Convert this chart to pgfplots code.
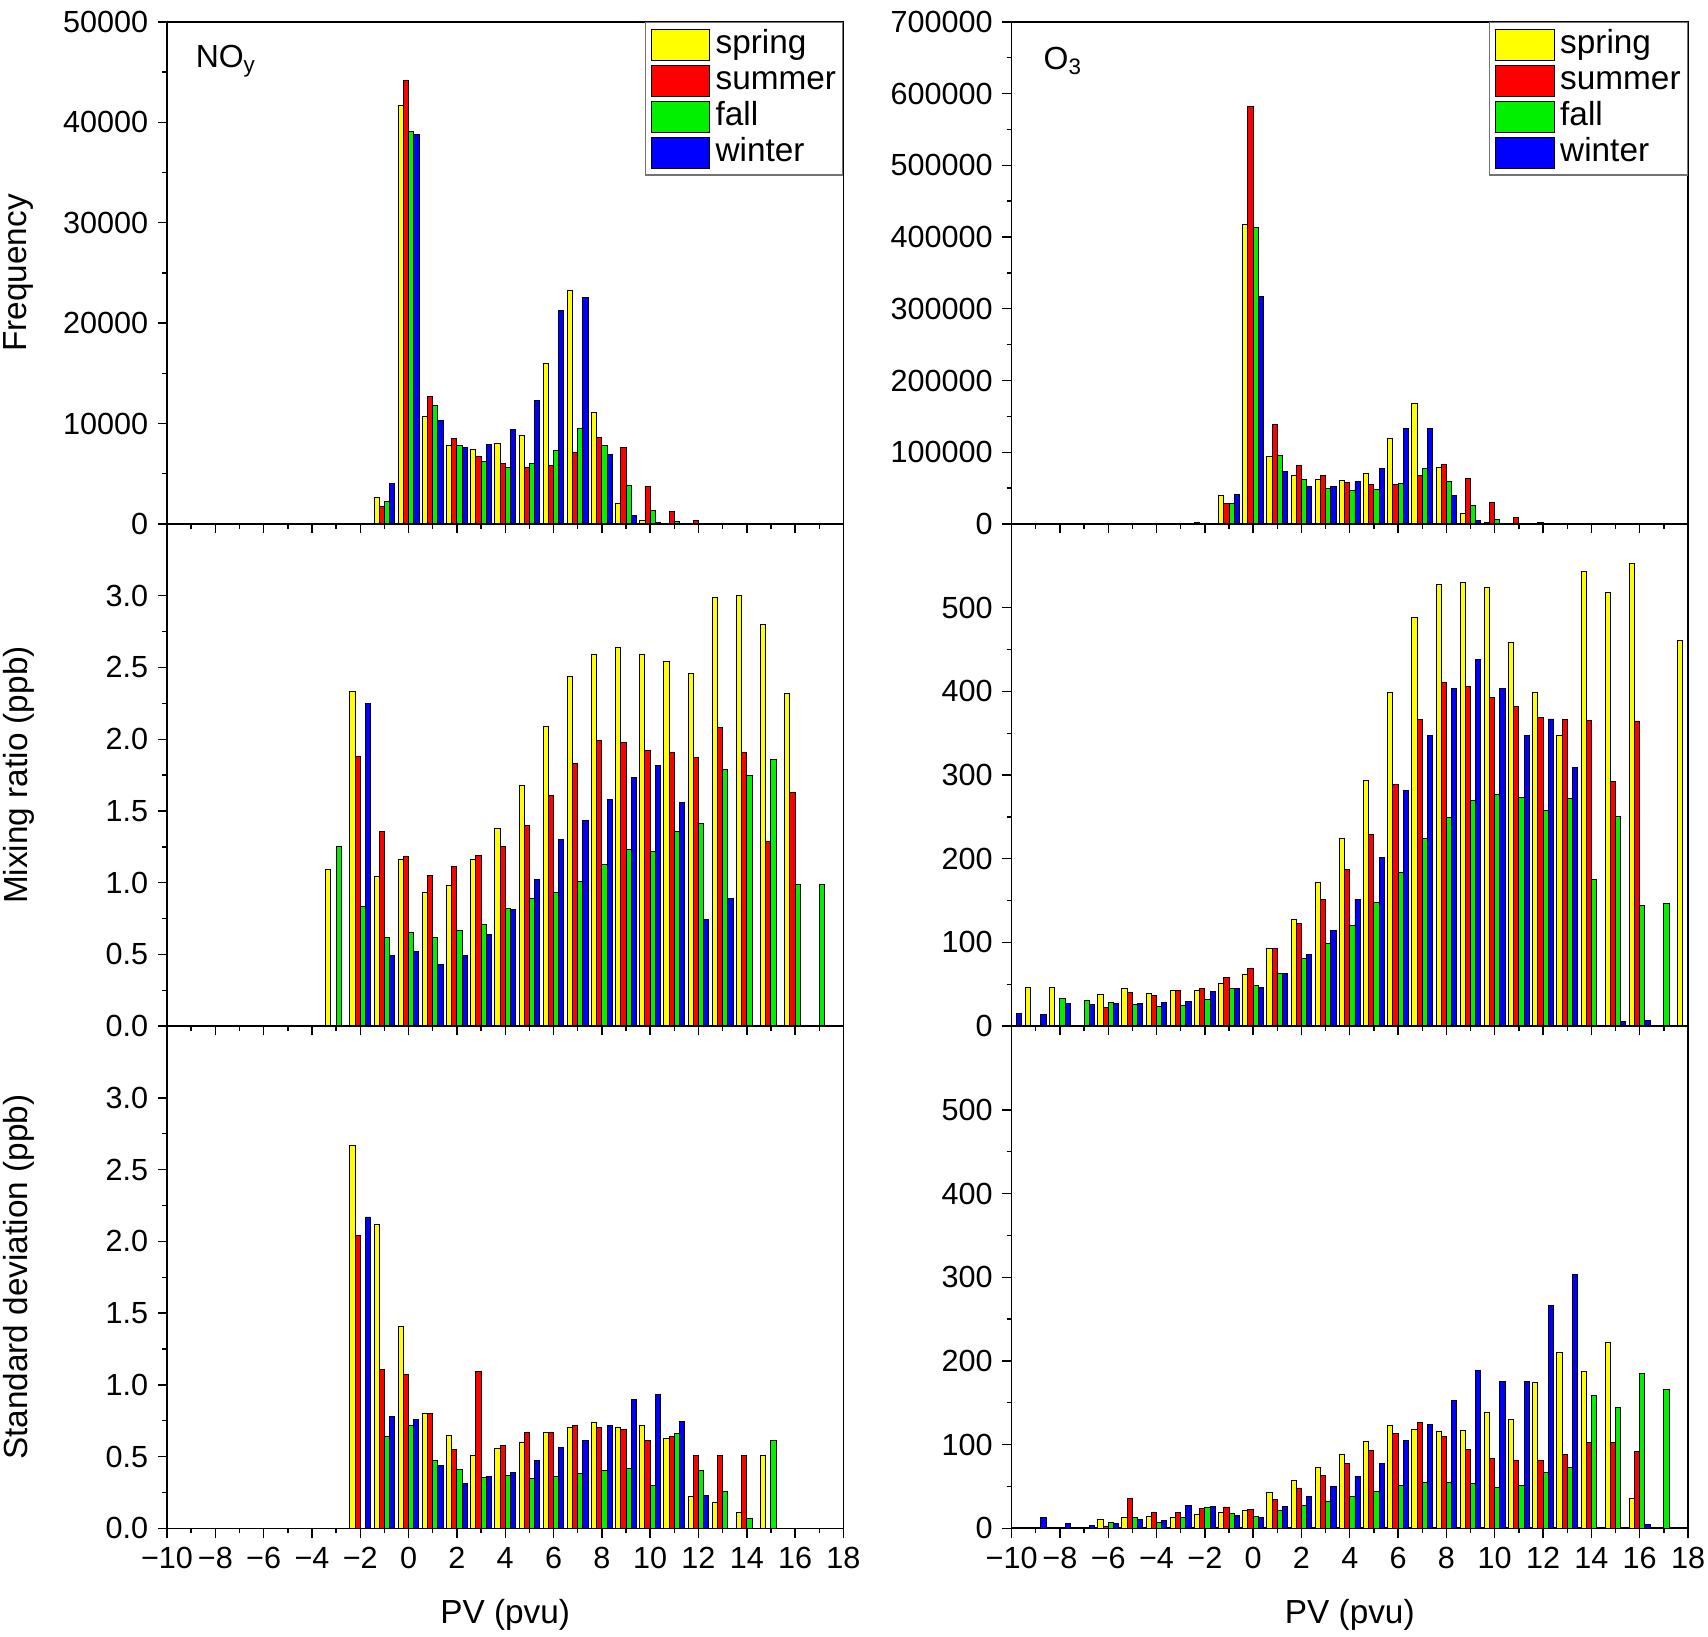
\documentclass[border=0pt]{standalone}
\usepackage{fontspec}
\setmainfont{Liberation Sans}
\usepackage{pgfplots}
\pgfplotsset{compat=1.18}
\usepgfplotslibrary{groupplots}
\definecolor{cspring}{RGB}{255,255,0}
\definecolor{csummer}{RGB}{255,0,0}
\definecolor{cfall}{RGB}{0,240,0}
\definecolor{cwinter}{RGB}{0,0,255}
\pgfplotsset{
  barbase/.style={ybar, bar width=0.215, draw=black, line width=0.35pt},
  sp/.style={barbase, bar shift=-0.3225, fill=cspring},
  su/.style={barbase, bar shift=-0.1075, fill=csummer},
  fa/.style={barbase, bar shift=0.1075, fill=cfall},
  wi/.style={barbase, bar shift=0.3225, fill=cwinter},
  mylegend/.style={
    legend style={at={(rel axis cs:1,1)}, anchor=north east, draw=black!55, line width=0.5pt,
      fill=white, font=\fontsize{12}{13}\selectfont, inner xsep=2pt, inner ysep=2pt,
      row sep=0.7pt, legend cell align=left,
      nodes={inner sep=0.4pt, text height=8.8pt, text depth=2.6pt},
      /tikz/every odd column/.append style={column sep=1.6pt}},
    legend image code/.code={\draw[##1] (0pt,-5.6pt) rectangle (21pt,5.6pt);},
  },
}
\begin{document}
\begin{tikzpicture}
\begin{groupplot}[
  group style={group size=2 by 3, horizontal sep=60.5pt, vertical sep=0pt},
  width=243.4pt, height=180.7pt, scale only axis,
  xmin=-10, xmax=18, xtick={-10,-8,...,18}, minor x tick num=1, minor y tick num=1,
  ymin=0, scaled y ticks=false,
  tick pos=left, tick align=outside,
  major tick length=3.3pt, minor tick length=1.8pt,
  every tick/.style={black, line width=0.5pt},
  axis line style={line width=0.6pt},
  tick label style={font=\fontsize{11}{12}\selectfont},
  label style={font=\fontsize{12}{14}\selectfont},
  ylabel style={at={(rel axis cs:-0.219,0.5)}, anchor=center},
  xlabel style={at={(rel axis cs:0.5,-0.173)}, anchor=center},
  xticklabels={},
]
% ---------------- top-left: NOy frequency
\nextgroupplot[ymax=50000, ytick={0,10000,...,50000},
  yticklabels={0,10000,20000,30000,40000,50000}, ylabel={Frequency}, mylegend]
\coordinate (tl) at (rel axis cs:0,1);
\addplot[sp] coordinates {(-1,2600) (0,41650) (1,10700) (2,7850) (3,7400) (4,8000) (5,8850) (6,16000) (7,23250) (8,11100) (9,2000) (10,300)};
\addplot[su] coordinates {(-1,1700) (0,44200) (1,12700) (2,8500) (3,6700) (4,6000) (5,5650) (6,5800) (7,7100) (8,8600) (9,7600) (10,3700) (11,1200) (12,300)};
\addplot[fa] coordinates {(-1,2200) (0,39050) (1,11750) (2,7800) (3,6200) (4,5650) (5,6000) (6,7350) (7,9500) (8,7800) (9,3800) (10,1300) (11,200)};
\addplot[wi] coordinates {(-1,4000) (0,38800) (1,10300) (2,7600) (3,7900) (4,9400) (5,12300) (6,21300) (7,22550) (8,6950) (9,800) (10,100)};
\legend{spring,summer,fall,winter}
\node[anchor=west, font=\fontsize{11.5}{12}\selectfont] at (rel axis cs:0.028,0.922) {NO\textsubscript{y}};
% ---------------- top-right: O3 frequency
\nextgroupplot[ymax=700000, ytick={0,100000,...,700000},
  yticklabels={0,100000,200000,300000,400000,500000,600000,700000}, mylegend]
\addplot[sp] coordinates {(-2,1500) (-1,39600) (0,417600) (1,94000) (2,68000) (3,61500) (4,61000) (5,69800) (6,119200) (7,167600) (8,78200) (9,15000) (10,2000) (11,500)};
\addplot[su] coordinates {(-2,500) (-1,29000) (0,581400) (1,139200) (2,81500) (3,67000) (4,58200) (5,55400) (6,55400) (7,68000) (8,82400) (9,64000) (10,30400) (11,9100) (12,1500)};
\addplot[fa] coordinates {(-2,800) (-1,29000) (0,413000) (1,95000) (2,61500) (3,49800) (4,47000) (5,48500) (6,56800) (7,77300) (8,59400) (9,25900) (10,6100) (11,1000)};
\addplot[wi] coordinates {(-2,1200) (-1,41100) (0,317000) (1,73000) (2,52600) (3,51700) (4,59100) (5,77300) (6,133100) (7,133100) (8,39600) (9,4600) (10,1000) (11,300)};
\legend{spring,summer,fall,winter}
\node[anchor=west, font=\fontsize{11.5}{12}\selectfont] at (rel axis cs:0.033,0.922) {O\textsubscript{3}};
% ---------------- middle-left: NOy mixing ratio
\nextgroupplot[ymax=3.5, ytick={0,0.5,...,3.0},
  yticklabels={0.0,0.5,1.0,1.5,2.0,2.5,3.0}, ylabel={Mixing ratio (ppb)}]
\addplot[sp] coordinates {(-3,1.09) (-2,2.33) (-1,1.04) (0,1.16) (1,0.935) (2,0.98) (3,1.16) (4,1.375) (5,1.68) (6,2.09) (7,2.44) (8,2.59) (9,2.64) (10,2.59) (11,2.54) (12,2.46) (13,2.99) (14,3.00) (15,2.80) (16,2.32)};
\addplot[su] coordinates {(-2,1.88) (-1,1.36) (0,1.18) (1,1.05) (2,1.11) (3,1.19) (4,1.255) (5,1.40) (6,1.61) (7,1.83) (8,1.99) (9,1.98) (10,1.92) (11,1.91) (12,1.87) (13,2.08) (14,1.91) (15,1.29) (16,1.63)};
\addplot[fa] coordinates {(-3,1.25) (-2,0.835) (-1,0.62) (0,0.65) (1,0.62) (2,0.67) (3,0.71) (4,0.82) (5,0.89) (6,0.93) (7,1.01) (8,1.13) (9,1.23) (10,1.22) (11,1.36) (12,1.41) (13,1.79) (14,1.75) (15,1.86) (16,0.99) (17,0.99)};
\addplot[wi] coordinates {(-2,2.25) (-1,0.49) (0,0.52) (1,0.43) (2,0.49) (3,0.64) (4,0.81) (5,1.025) (6,1.30) (7,1.43) (8,1.58) (9,1.73) (10,1.82) (11,1.56) (12,0.74) (13,0.89)};
% ---------------- middle-right: O3 mixing ratio
\nextgroupplot[ymax=600, ytick={0,100,...,500}, yticklabels={0,100,200,300,400,500}]
\addplot[sp] coordinates {(-9,45.7) (-8,46) (-6,38.3) (-5,44.9) (-4,39.5) (-3,43) (-2,43) (-1,50.6) (0,61.7) (1,92.8) (2,127.8) (3,171.6) (4,224.5) (5,293) (6,398.9) (7,487.7) (8,527.9) (9,529.5) (10,523.9) (11,459) (12,398.9) (13,347.1) (14,543.4) (15,517.9) (16,552.2) (18,461)};
\addplot[su] coordinates {(-6,22.3) (-5,40.2) (-4,37.1) (-3,42.2) (-2,45.4) (-1,58.5) (0,68.5) (1,92.8) (2,122.2) (3,151.7) (4,186.7) (5,228.5) (6,288.2) (7,366.2) (8,410.8) (9,405.7) (10,392.9) (11,381.8) (12,369) (13,366.2) (14,365.4) (15,292.6) (16,364.6)};
\addplot[fa] coordinates {(-8,33.2) (-7,30.9) (-6,28.5) (-5,26.2) (-4,23.8) (-3,24.6) (-2,31.8) (-1,45.4) (0,48.6) (1,63.3) (2,80.4) (3,98.7) (4,119.8) (5,147.3) (6,183.1) (7,223.7) (8,249.2) (9,269.1) (10,276.3) (11,273.1) (12,257.6) (13,272.3) (14,175.6) (15,250) (16,143.7) (17,146.9)};
\addplot[wi] coordinates {(-10,15.6) (-9,13.7) (-8,27.3) (-7,25.8) (-6,26.6) (-5,27.3) (-4,28.5) (-3,28.9) (-2,41.4) (-1,44.6) (0,45.8) (1,62.5) (2,86) (3,114.6) (4,151.7) (5,201.8) (6,281.4) (7,347.1) (8,403.7) (9,437.5) (10,403.7) (11,347.5) (12,367) (13,308.5) (15,5.2) (16,6.4)};
% ---------------- bottom-left: NOy standard deviation
\nextgroupplot[ymax=3.5, ytick={0,0.5,...,3.0},
  yticklabels={0.0,0.5,1.0,1.5,2.0,2.5,3.0}, ylabel={Standard deviation (ppb)},
  xticklabels={−10,−8,−6,−4,−2,0,2,4,6,8,10,12,14,16,18}, xlabel={PV (pvu)}]
\addplot[sp] coordinates {(-2,2.67) (-1,2.12) (0,1.41) (1,0.80) (2,0.645) (3,0.51) (4,0.56) (5,0.60) (6,0.67) (7,0.70) (8,0.735) (9,0.705) (10,0.715) (11,0.625) (12,0.22) (13,0.18) (14,0.11) (15,0.51)};
\addplot[su] coordinates {(-2,2.04) (-1,1.11) (0,1.07) (1,0.80) (2,0.55) (3,1.09) (4,0.58) (5,0.67) (6,0.67) (7,0.715) (8,0.70) (9,0.69) (10,0.615) (11,0.64) (12,0.51) (13,0.51) (14,0.51)};
\addplot[fa] coordinates {(-1,0.64) (0,0.72) (1,0.475) (2,0.41) (3,0.355) (4,0.37) (5,0.35) (6,0.36) (7,0.38) (8,0.40) (9,0.42) (10,0.30) (11,0.66) (12,0.40) (13,0.26) (14,0.07) (15,0.61)};
\addplot[wi] coordinates {(-2,2.17) (-1,0.78) (0,0.76) (1,0.435) (2,0.315) (3,0.36) (4,0.39) (5,0.47) (6,0.565) (7,0.61) (8,0.715) (9,0.90) (10,0.93) (11,0.745) (12,0.23)};
% ---------------- bottom-right: O3 standard deviation
\nextgroupplot[ymax=600, ytick={0,100,...,500}, yticklabels={0,100,200,300,400,500},
  xticklabels={−10,−8,−6,−4,−2,0,2,4,6,8,10,12,14,16,18}, xlabel={PV (pvu)}]
\coordinate (br) at (rel axis cs:1,0);
\addplot[sp] coordinates {(-6,10.8) (-5,13.1) (-4,13.9) (-3,13.1) (-2,17.1) (-1,19.1) (0,21.1) (1,42.6) (2,57) (3,72.5) (4,88) (5,103.2) (6,122.3) (7,117.9) (8,116.3) (9,116.7) (10,139) (11,129.9) (12,174.1) (13,210.4) (14,186.9) (15,221.5) (16,35.1)};
\addplot[su] coordinates {(-6,2.8) (-5,35.9) (-4,19.1) (-3,19.1) (-2,23.5) (-1,25.5) (0,22.7) (1,34.7) (2,48.2) (3,63.7) (4,77.7) (5,92.8) (6,113.9) (7,125.9) (8,110) (9,94.4) (10,82.9) (11,80.5) (12,81.3) (13,88) (14,102.8) (15,102.8) (16,92)};
\addplot[fa] coordinates {(-6,6.8) (-5,12.4) (-4,6.8) (-3,12.4) (-2,25.5) (-1,17.5) (0,14.3) (1,21.5) (2,27.1) (3,32.3) (4,38.6) (5,43.8) (6,51.4) (7,54.2) (8,54.6) (9,53.4) (10,49.4) (11,51) (12,66.5) (13,72.5) (14,158.6) (15,144.6) (16,185.3) (17,165.7)};
\addplot[wi] coordinates {(-9,13.1) (-8,5.6) (-7,3.2) (-6,5.2) (-5,10.8) (-4,9.6) (-3,27.1) (-2,26.3) (-1,15.1) (0,12.7) (1,26.3) (2,37.5) (3,50.2) (4,61.8) (5,77.3) (6,104.8) (7,123.9) (8,152.2) (9,188.4) (10,174.9) (11,174.9) (12,265.7) (13,302.8) (16,4)};
\end{groupplot}
\pgfresetboundingbox
\path[use as bounding box] ([xshift=-60.1pt,yshift=7.85pt]tl) rectangle ([xshift=7.2pt,yshift=-38.9pt]br);
\end{tikzpicture}
\end{document}
